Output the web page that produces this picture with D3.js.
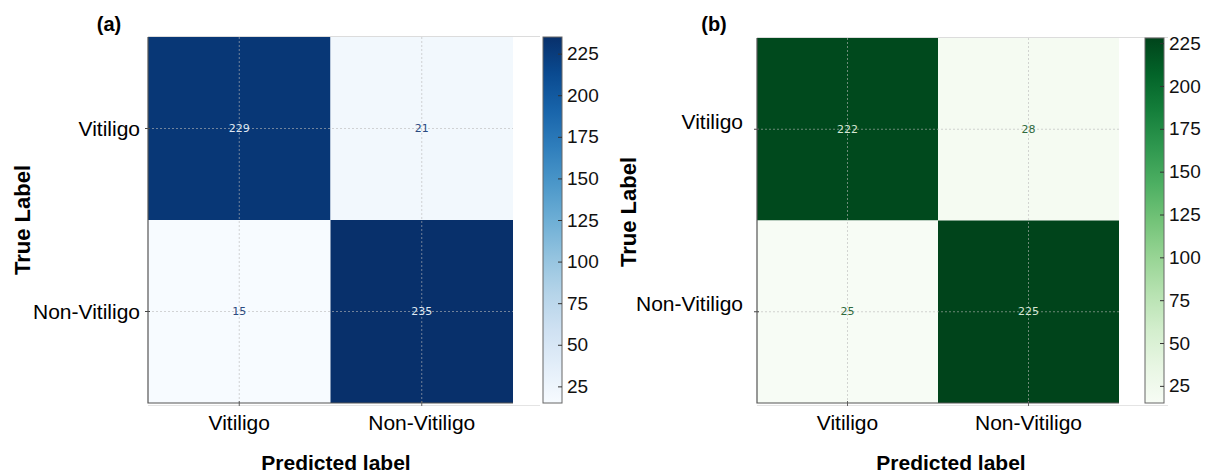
<html>
<head>
  <script src="https://d3js.org/d3.v7.min.js"></script>
  <style>
    body { margin: 0; background: white; }
    text { font-family: "Liberation Sans", Arial, Helvetica, sans-serif; }
    .cellnum { font-family: "DejaVu Sans", sans-serif; font-size: 11px; }
  </style>
</head>
<body>
  <svg id="chart" width="1214" height="475"></svg>
  <script>
    // values
    const classes = ["Vitiligo", "Non-Vitiligo"];
    const matrixA = [[229, 21], [15, 235]];
    const matrixB = [[222, 28], [25, 225]];
    const cbTicks = [25, 50, 75, 100, 125, 150, 175, 200, 225];
    const cbDomainA = [15, 235];
    const cbDomainB = [15, 228];
    const panelTitles = ["(a)", "(b)"];

    const svg = d3.select("#chart");

    function drawPanel(p) {
      const g = svg.append("g");
      const flat = p.matrix.flat();
      const color = d3.scaleSequential(p.interp).domain(d3.extent(flat));

      const x = d3.scaleBand().domain(classes).range([p.x0, p.x1]);
      const y = d3.scaleBand().domain(classes).range([p.y0, p.y1]);

      // light axes frame lines
      g.append("line").attr("x1", p.x0).attr("x2", p.frameRight)
        .attr("y1", p.y0 - 0.5).attr("y2", p.y0 - 0.5)
        .attr("stroke", "#dcdcdc");
      g.append("line").attr("x1", p.x0).attr("x2", p.frameRight)
        .attr("y1", p.y1 + 2.5).attr("y2", p.y1 + 2.5)
        .attr("stroke", "#e4e4e4");

      const cells = [];
      p.matrix.forEach((row, i) => row.forEach((v, j) => {
        cells.push({ t: classes[i], pr: classes[j], v: v });
      }));

      g.selectAll("rect.cell").data(cells).join("rect")
        .attr("class", "cell")
        .attr("x", d => x(d.pr))
        .attr("y", d => y(d.t))
        .attr("width", x.bandwidth())
        .attr("height", y.bandwidth())
        .attr("fill", d => color(d.v));

      // dashed grid at cell centres
      classes.forEach(c => {
        const cx = x(c) + x.bandwidth() / 2;
        const cy = y(c) + y.bandwidth() / 2;
        g.append("line").attr("x1", cx).attr("x2", cx).attr("y1", p.y0).attr("y2", p.y1)
          .attr("stroke", "#b8b8b8").attr("stroke-opacity", 0.75)
          .attr("stroke-dasharray", "2,2").attr("stroke-width", 0.8);
        g.append("line").attr("x1", p.x0).attr("x2", p.x1).attr("y1", cy).attr("y2", cy)
          .attr("stroke", "#b8b8b8").attr("stroke-opacity", 0.75)
          .attr("stroke-dasharray", "2,2").attr("stroke-width", 0.8);
        // small ticks
        g.append("line").attr("x1", p.x0 - 3).attr("x2", p.x0 + 2).attr("y1", cy).attr("y2", cy)
          .attr("stroke", "#444");
        g.append("line").attr("x1", cx).attr("x2", cx).attr("y1", p.y1 - 2).attr("y2", p.y1 + 3)
          .attr("stroke", "#666");
      });

      // dark frame left + bottom
      g.append("path")
        .attr("d", `M${p.x0},${p.y0}V${p.y1}H${p.x1}`)
        .attr("fill", "none").attr("stroke", "#555").attr("stroke-width", 1.2);

      g.selectAll("text.cellnum").data(cells).join("text")
        .attr("class", "cellnum")
        .attr("x", d => x(d.pr) + x.bandwidth() / 2)
        .attr("y", d => y(d.t) + y.bandwidth() / 2)
        .attr("text-anchor", "middle")
        .attr("dominant-baseline", "central")
        .attr("fill", d => d.v > d3.mean(flat) ? p.lightText : p.darkText)
        .text(d => d.v);

      // tick labels
      classes.forEach(c => {
        g.append("text")
          .attr("x", x(c) + x.bandwidth() / 2).attr("y", 422)
          .attr("text-anchor", "middle").attr("dominant-baseline", "central")
          .attr("font-size", 21).text(c);
        g.append("text")
          .attr("x", p.yLabelX).attr("y", y(c) + y.bandwidth() / 2 + p.yLabelShift)
          .attr("text-anchor", "end").attr("dominant-baseline", "central")
          .attr("font-size", 21).text(c);
      });

      // colorbar
      const gradId = "grad" + p.id;
      const grad = svg.append("defs").append("linearGradient").attr("id", gradId)
        .attr("x1", 0).attr("y1", 1).attr("x2", 0).attr("y2", 0);
      d3.range(0, 1.01, 0.1).forEach(t => {
        grad.append("stop").attr("offset", t).attr("stop-color", p.interp(t));
      });
      g.append("rect")
        .attr("x", p.cbX).attr("y", p.y0).attr("width", p.cbW).attr("height", p.y1 - p.y0)
        .attr("fill", `url(#${gradId})`).attr("stroke", "#666").attr("stroke-width", 1);

      const cbScale = d3.scaleLinear().domain(p.cbDomain).range([p.y1, p.y0]);
      const cbAxis = d3.axisRight(cbScale).tickValues(cbTicks).tickSize(0).tickPadding(5);
      const ax = g.append("g")
        .attr("transform", `translate(${p.cbX + p.cbW},0)`)
        .call(cbAxis);
      ax.select(".domain").remove();
      ax.selectAll("text").attr("font-size", 19).attr("fill", "#111")
        .style("font-family", "'Liberation Sans', Arial, sans-serif");
      ax.selectAll(".tick").append("line")
        .attr("x1", -4).attr("x2", 0).attr("stroke", "#333");

      // axis titles
      g.append("text")
        .attr("transform", `translate(${p.ylabX},${p.ylabY}) rotate(-90)`)
        .attr("text-anchor", "middle").attr("dominant-baseline", "central")
        .attr("font-size", 22).attr("font-weight", "bold").text("True Label");
      g.append("text")
        .attr("x", p.xlabX).attr("y", 462)
        .attr("text-anchor", "middle").attr("dominant-baseline", "central")
        .attr("font-size", 21).attr("font-weight", "bold").text("Predicted label");
      g.append("text")
        .attr("x", p.titleX).attr("y", 24)
        .attr("text-anchor", "middle").attr("dominant-baseline", "central")
        .attr("font-size", 20).attr("font-weight", "bold").text(p.title);
    }

    drawPanel({
      id: "a", matrix: matrixA, interp: d3.interpolateBlues,
      x0: 148, x1: 513, y0: 37, y1: 403, frameRight: 540,
      cbX: 543, cbW: 19, cbDomain: cbDomainA,
      lightText: "#dfe8f2", darkText: "#2b4a80", yLabelX: 140, yLabelShift: 0,
      ylabX: 22, ylabY: 220, xlabX: 336, titleX: 109, title: panelTitles[0]
    });
    drawPanel({
      id: "b", matrix: matrixB, interp: d3.interpolateGreens,
      x0: 757, x1: 1119, y0: 38, y1: 403, frameRight: 1168,
      cbX: 1145, cbW: 19, cbDomain: cbDomainB,
      lightText: "#d5e6d5", darkText: "#2f6a3e", yLabelX: 743, yLabelShift: -8,
      ylabX: 628, ylabY: 212, xlabX: 951, titleX: 714, title: panelTitles[1]
    });
  </script>
</body>
</html>
